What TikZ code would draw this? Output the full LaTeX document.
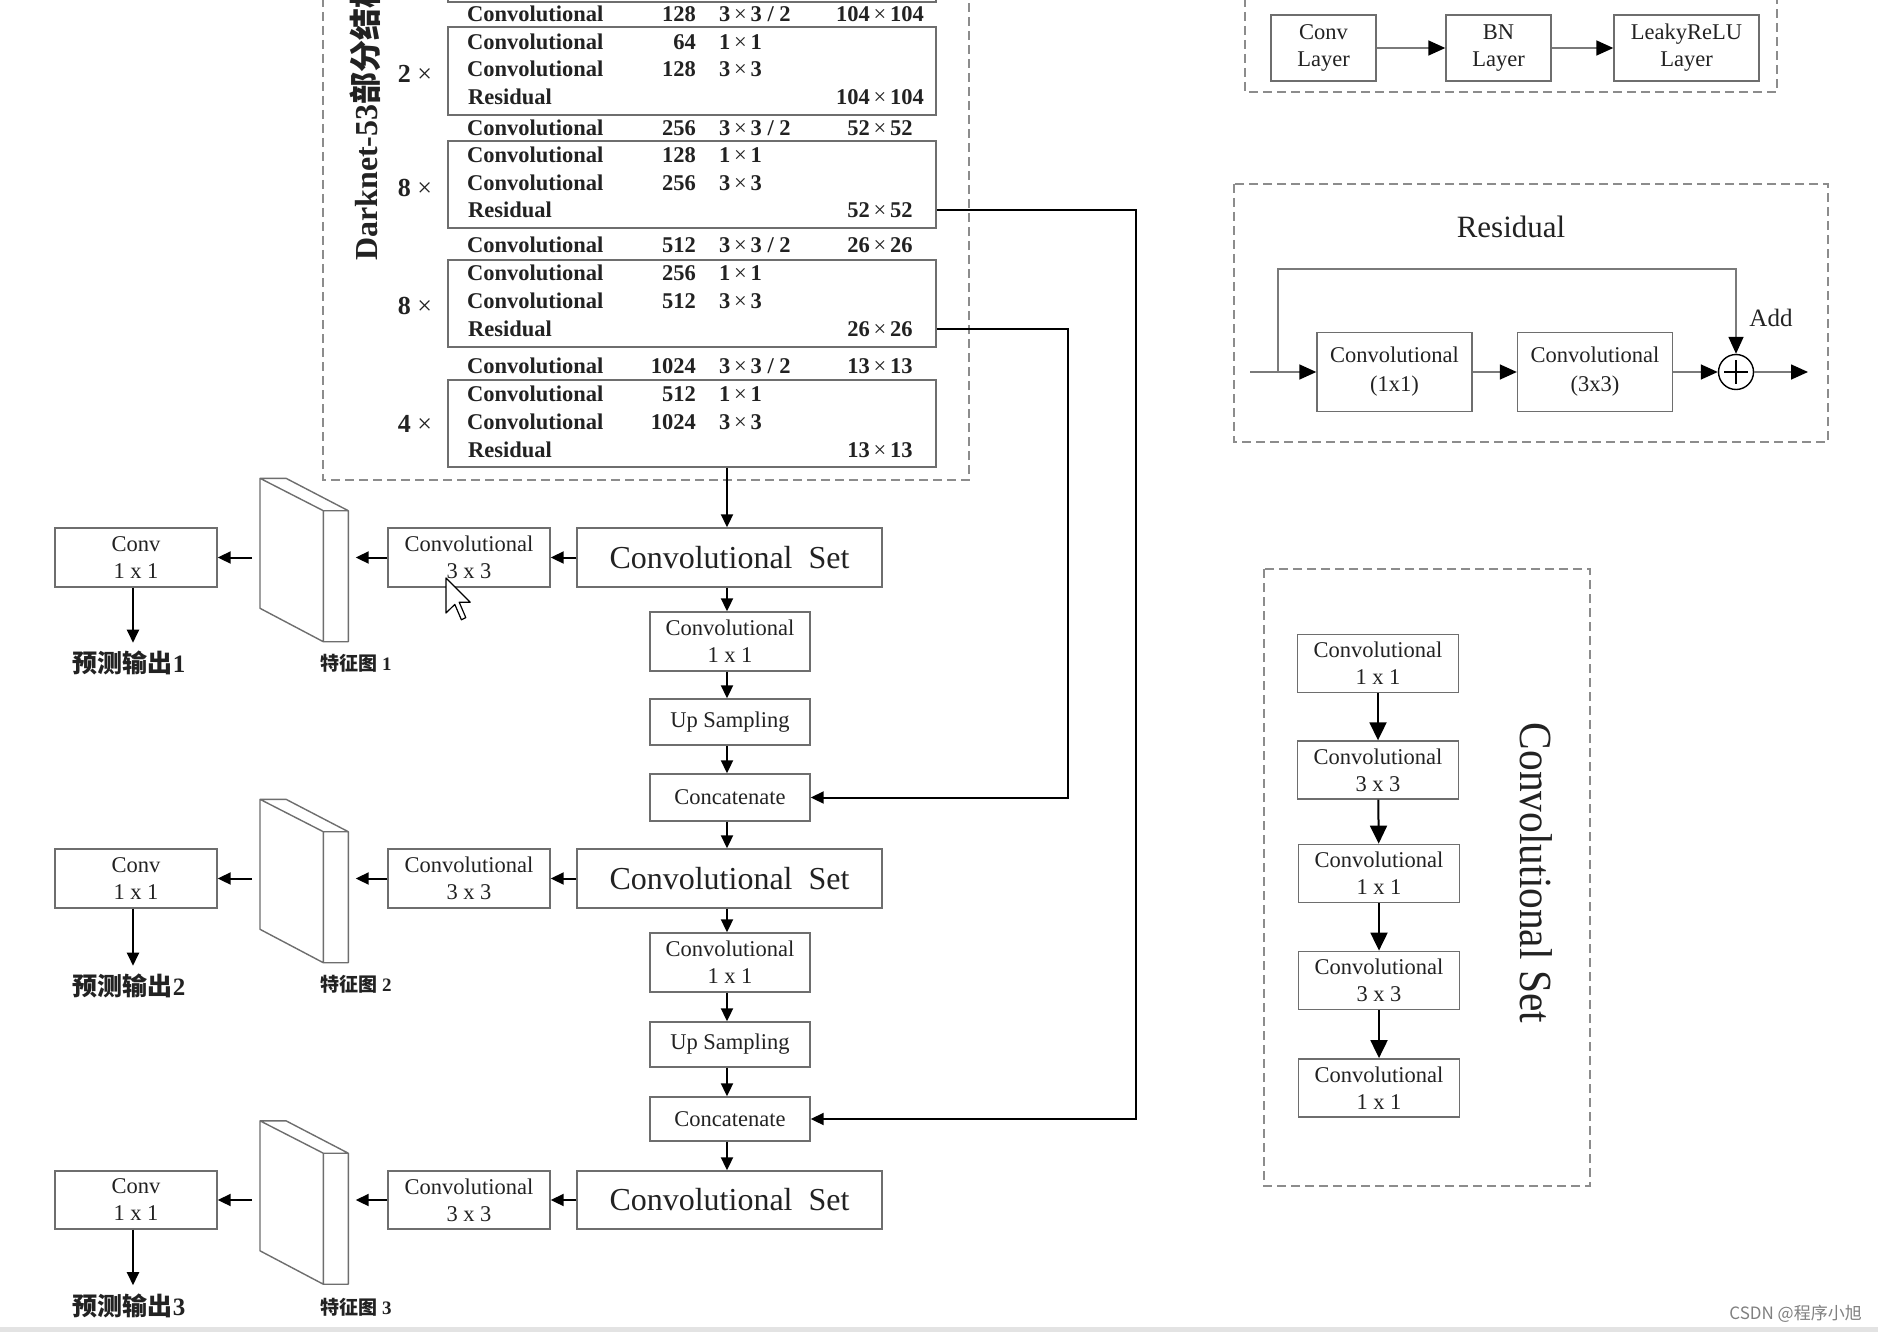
\documentclass[tikz,border=0pt]{standalone}
\usepackage{fontspec}
\usepackage{graphicx}
\setmainfont{Liberation Serif}
\newfontfamily\cjk{Noto Sans CJK SC}
\usetikzlibrary{arrows.meta,calc}
\definecolor{boxgray}{HTML}{6E6E6E}
\definecolor{dashgray}{HTML}{8C8C8C}
\definecolor{linegray}{HTML}{7A7A7A}
\definecolor{txt}{HTML}{222222}
\newcommand\fsz[2]{\fontsize{#1pt}{#2pt}\selectfont}
\newcommand\tms{\,{\mdseries ×}\,}
% table rows
\newcommand\crow[5]{%
  \node[tl,anchor=west] (#1) at (467,#2) {Convolutional};
  \node[tl,anchor=east] (#1n) at (696,#2) {#3};
  \node[tl,anchor=west] (#1k) at (719,#2) {#4};
  \node[tl] (#1s) at (880,#2) {#5};}
\newcommand\irow[4]{%
  \node[tl,anchor=west] (#1) at (467,#2) {Convolutional};
  \node[tl,anchor=east] (#1n) at (696,#2) {#3};
  \node[tl,anchor=west] (#1k) at (719,#2) {#4};}
\newcommand\rrow[3]{%
  \node[tl,anchor=west] (#1) at (468,#2) {Residual};
  \node[tl] (#1s) at (880,#2) {#3};}
% feature-map slab: name, left x, top y
\newcommand\slab[3]{%
  \node[inner sep=0pt, minimum width=88.3pt, minimum height=163.4pt, anchor=north west] (#1) at (#2,#3) {};
  \draw[draw=boxgray, line width=1.4pt, fill=white, line join=round, shift={(#2,#3)}]
    (0,0) -- (26,0) -- (88.3,32.4) -- (88.3,163.4) -- (63.3,163.4) -- (0,130) -- cycle
    (0,0) -- (63.3,32.4) -- (63.3,163.4)
    (63.3,32.4) -- (88.3,32.4);}

\begin{document}
\begin{tikzpicture}[x=1pt,y=-1pt,
  box/.style={draw=boxgray, line width=1.4pt, fill=white, inner sep=0pt, align=center, text=txt, font=\fsz{22.5}{27}},
  dbox/.style={draw=dashgray, line width=1.4pt, dash pattern=on 9pt off 5pt},
  frame/.style={draw=boxgray, line width=1.4pt, inner sep=0pt},
  arr/.style={line width=2pt, -{Triangle[length=13pt,width=12pt]}},
  arr3/.style={line width=2pt, -{Triangle[length=18pt,width=17pt]}},
  parr/.style={draw=linegray, line width=1.6pt, -{Triangle[length=17pt,width=15pt,color=black]}},
  tl/.style={inner sep=0pt, text=txt, font=\fsz{22.5}{27}\bfseries},
  cjkl/.style={inner sep=0pt, text=txt},
]
\useasboundingbox (0,0) rectangle (1878,1332);
\fill[white] (0,0) rectangle (1878,1332);
\clip (0,0) rectangle (1878,1332);

% ---------------- Darknet-53 backbone ----------------
\draw[dbox] (323,-30) rectangle (969,480);
\node[rotate=90, anchor=west, inner sep=0pt, text=txt, font=\fsz{32}{36}\bfseries] (dtitle) at (365,261) {Darknet-53{\cjk 部分结构}};

\draw[boxgray, line width=1.4pt] (448,-40) rectangle (936,2);
\node[frame, minimum width=488pt, minimum height=88pt] (bA) at (692,71) {};
\node[frame, minimum width=488pt, minimum height=87pt] (bB) at (692,184.5) {};
\node[frame, minimum width=488pt, minimum height=87pt] (bC) at (692,303.5) {};
\node[frame, minimum width=488pt, minimum height=87pt] (bD) at (692,423.5) {};

\node[inner sep=0pt, text=txt, font=\fsz{26}{30}] (mA) at (415,74) {\textbf{2}\ ×};
\node[inner sep=0pt, text=txt, font=\fsz{26}{30}] (mB) at (415,188) {\textbf{8}\ ×};
\node[inner sep=0pt, text=txt, font=\fsz{26}{30}] (mC) at (415,306) {\textbf{8}\ ×};
\node[inner sep=0pt, text=txt, font=\fsz{26}{30}] (mD) at (415,424) {\textbf{4}\ ×};

\crow{r1}{14}{128}{3\tms3 / 2}{104\tms104}
\irow{rA1}{42}{64}{1\tms1}
\irow{rA2}{69}{128}{3\tms3}
\rrow{rA3}{97}{104\tms104}
\crow{r2}{128}{256}{3\tms3 / 2}{52\tms52}
\irow{rB1}{155}{128}{1\tms1}
\irow{rB2}{183}{256}{3\tms3}
\rrow{rB3}{210}{52\tms52}
\crow{r3}{245}{512}{3\tms3 / 2}{26\tms26}
\irow{rC1}{273}{256}{1\tms1}
\irow{rC2}{301}{512}{3\tms3}
\rrow{rC3}{329}{26\tms26}
\crow{r4}{366}{1024}{3\tms3 / 2}{13\tms13}
\irow{rD1}{394}{512}{1\tms1}
\irow{rD2}{422}{1024}{3\tms3}
\rrow{rD3}{450}{13\tms13}

% ---------------- middle column ----------------
\coordinate (ax) at (727,0);
\node[box, minimum width=305pt, minimum height=59pt, font=\fsz{32}{36}] (cs1) at (729.5,557.5) {Convolutional\ \ Set};
\node[box, minimum width=160pt, minimum height=59pt] (m1a) at (730,641.5) {Convolutional\\1 x 1};
\node[box, minimum width=160pt, minimum height=46pt] (up1) at (730,722) {Up Sampling};
\node[box, minimum width=160pt, minimum height=47pt] (cat1) at (730,797.5) {Concatenate};
\node[box, minimum width=305pt, minimum height=59pt, font=\fsz{32}{36}] (cs2) at (729.5,878.5) {Convolutional\ \ Set};
\node[box, minimum width=160pt, minimum height=59pt] (m1b) at (730,962.5) {Convolutional\\1 x 1};
\node[box, minimum width=160pt, minimum height=45pt] (up2) at (730,1044.5) {Up Sampling};
\node[box, minimum width=160pt, minimum height=44pt] (cat2) at (730,1119) {Concatenate};
\node[box, minimum width=305pt, minimum height=58pt, font=\fsz{32}{36}] (cs3) at (729.5,1200) {Convolutional\ \ Set};

\draw[arr] (bD.south -| ax) -- (cs1.north -| ax);
\draw[arr] (cs1.south -| ax) -- (m1a.north -| ax);
\draw[arr] (m1a.south -| ax) -- (up1.north -| ax);
\draw[arr] (up1.south -| ax) -- (cat1.north -| ax);
\draw[arr] (cat1.south -| ax) -- (cs2.north -| ax);
\draw[arr] (cs2.south -| ax) -- (m1b.north -| ax);
\draw[arr] (m1b.south -| ax) -- (up2.north -| ax);
\draw[arr] (up2.south -| ax) -- (cat2.north -| ax);
\draw[arr] (cat2.south -| ax) -- (cs3.north -| ax);

% skip connections from backbone
\coordinate (j26) at (1068,0);
\coordinate (j52) at (1135.5,0);
\draw[arr] (bC.east |- rC3) -- (j26 |- rC3) -- (j26 |- cat1.east) -- (cat1.east);
\draw[arr] (bB.east |- rB3) -- (j52 |- rB3) -- (j52 |- cat2.east) -- (cat2.east);

% ---------------- left branches ----------------
\coordinate (px) at (133,0);
% row 1
\node[box, minimum width=162pt, minimum height=59pt] (k3a) at (469,557.5) {Convolutional\\3 x 3};
\node[box, minimum width=162pt, minimum height=59pt] (c1a) at (136,557.5) {Conv\\1 x 1};
\slab{f1}{260}{478.3}
\node[cjkl, font=\fsz{25}{30}] (p1) at (129,663) {{\cjk\bfseries 预测输出}\textbf{1}};
\node[cjkl, font=\fsz{19}{22}] (g1) at (356,663) {{\cjk\bfseries 特征图} \textbf{1}};
\draw[arr] (cs1.west) -- (k3a.east);
\draw[arr] (k3a.west) -- ($(k3a.west -| f1.east)+(7,0)$);
\draw[arr] ($(c1a.east -| f1.west)+(-8,0)$) -- (c1a.east);
\draw[arr] (c1a.south -| px) -- ($(p1.north -| px)+(0,-8)$);
% cursor
\draw[fill=white, line width=1.2pt, line join=round, shift={(446,578)}]
  (0,0) -- (0,35) -- (8.8,26.4) -- (15.4,41.8) -- (19.8,39.6) -- (13.2,24.2) -- (24.2,24.2) -- cycle;

% row 2
\node[box, minimum width=162pt, minimum height=59pt] (k3b) at (469,878.5) {Convolutional\\3 x 3};
\node[box, minimum width=162pt, minimum height=59pt] (c1b) at (136,878.5) {Conv\\1 x 1};
\slab{f2}{260}{799.3}
\node[cjkl, font=\fsz{25}{30}] (p2) at (129,986) {{\cjk\bfseries 预测输出}\textbf{2}};
\node[cjkl, font=\fsz{19}{22}] (g2) at (356,984) {{\cjk\bfseries 特征图} \textbf{2}};
\draw[arr] (cs2.west) -- (k3b.east);
\draw[arr] (k3b.west) -- ($(k3b.west -| f2.east)+(7,0)$);
\draw[arr] ($(c1b.east -| f2.west)+(-8,0)$) -- (c1b.east);
\draw[arr] (c1b.south -| px) -- ($(p2.north -| px)+(0,-8)$);

% row 3
\node[box, minimum width=162pt, minimum height=58pt] (k3c) at (469,1200) {Convolutional\\3 x 3};
\node[box, minimum width=162pt, minimum height=58pt] (c1c) at (136,1200) {Conv\\1 x 1};
\slab{f3}{260}{1120.8}
\node[cjkl, font=\fsz{25}{30}] (p3) at (129,1305.5) {{\cjk\bfseries 预测输出}\textbf{3}};
\node[cjkl, font=\fsz{19}{22}] (g3) at (356,1307) {{\cjk\bfseries 特征图} \textbf{3}};
\draw[arr] (cs3.west) -- (k3c.east);
\draw[arr] (k3c.west) -- ($(k3c.west -| f3.east)+(7,0)$);
\draw[arr] ($(c1c.east -| f3.west)+(-8,0)$) -- (c1c.east);
\draw[arr] (c1c.south -| px) -- ($(p3.north -| px)+(0,-8)$);

% ---------------- panel: Conv - BN - LeakyReLU ----------------
\draw[dbox] (1245,-30) rectangle (1777,92);
\node[box, minimum width=105pt, minimum height=66pt] (pc) at (1323.5,48) {Conv\\Layer};
\node[box, minimum width=105pt, minimum height=66pt] (pb) at (1498.5,48) {BN\\Layer};
\node[box, minimum width=145pt, minimum height=66pt] (pl) at (1686.5,48) {LeakyReLU\\Layer};
\draw[parr] (pc) -- (pb);
\draw[parr] (pb) -- (pl);

% ---------------- panel: Residual ----------------
\draw[dbox] (1234,184) rectangle (1828,442);
\node[inner sep=0pt, text=txt, font=\fsz{31}{36}] (rt) at (1511,227) {Residual};
\node[box, minimum width=155pt, minimum height=79pt, font=\fsz{22.5}{29}] (rc1) at (1394.5,372) {Convolutional\\(1x1)};
\node[box, minimum width=155pt, minimum height=79pt, font=\fsz{22.5}{29}] (rc2) at (1595,372) {Convolutional\\(3x3)};
\node[circle, draw=black, line width=1.4pt, minimum size=35pt, inner sep=0pt] (add) at (1736,372) {};
\draw[line width=1.4pt] ($(add.center)+(-12,0)$) -- ($(add.center)+(12,0)$)
  ($(add.center)+(0,-12)$) -- ($(add.center)+(0,12)$);
\node[inner sep=0pt, text=txt, font=\fsz{25}{30}] (addl) at (1771,318) {Add};
\coordinate (in0) at (1250,372);
\coordinate (br) at (1278,372);
\coordinate (tp) at (1278,269);
\coordinate (out0) at (1808,372);
\draw[parr] (in0) -- (rc1.west);
\draw[parr] (br) -- (tp) -| (add.north);
\draw[parr] (rc1) -- (rc2);
\draw[parr] (rc2) -- (add);
\draw[parr] (add) -- (out0);

% ---------------- panel: Convolutional Set ----------------
\draw[dbox] (1264,569) rectangle (1590,1186);
\node[box, minimum width=161pt, minimum height=58pt] (s1) at (1378,663.3) {Convolutional\\1 x 1};
\node[box, minimum width=161pt, minimum height=58pt] (s2) at (1378,770) {Convolutional\\3 x 3};
\node[box, minimum width=161pt, minimum height=58pt] (s3) at (1379,873.3) {Convolutional\\1 x 1};
\node[box, minimum width=161pt, minimum height=58pt] (s4) at (1379,980.3) {Convolutional\\3 x 3};
\node[box, minimum width=161pt, minimum height=58pt] (s5) at (1379,1087.8) {Convolutional\\1 x 1};
\draw[arr3] (s1) -- (s2);
\draw[arr3] (s2) -- (s3);
\draw[arr3] (s3) -- (s4);
\draw[arr3] (s4) -- (s5);
\node[rotate=-90, inner sep=0pt, text=txt, font=\fsz{46}{50}] (cst) at (1536,873) {\scalebox{0.9}[1]{Convolutional Set}};

% ---------------- screenshot footer ----------------
\fill[gray!22] (0,1327) rectangle (1878,1332);
\node[anchor=east, inner sep=0pt, text=gray, font=\fsz{17}{20}] (wm) at (1862,1314) {{\cjk CSDN @程序小旭}};
\end{tikzpicture}
\end{document}
